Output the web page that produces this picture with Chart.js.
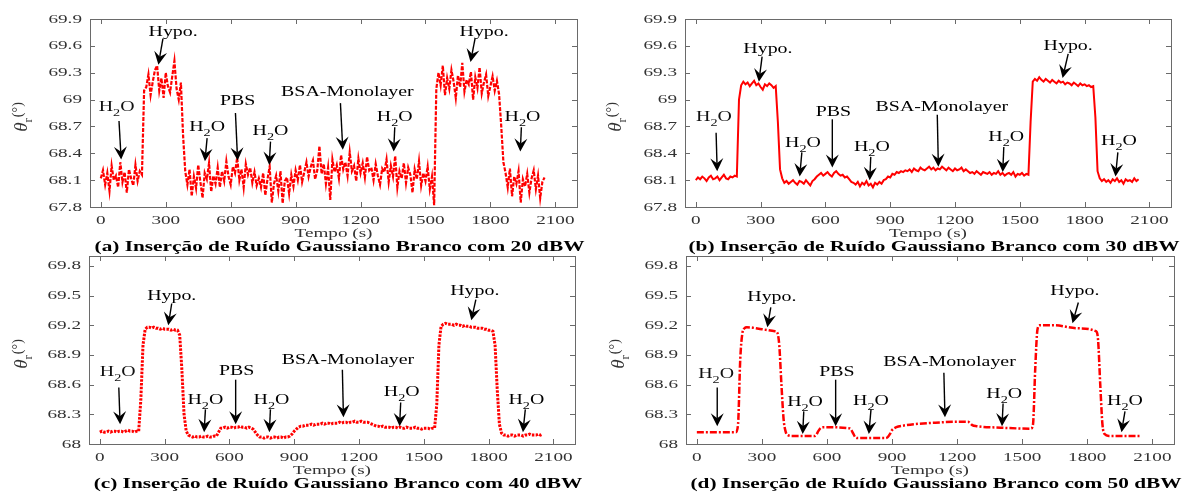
<!DOCTYPE html>
<html lang="pt">
<head>
<meta charset="UTF-8">
<title>Inserção de Ruído Gaussiano Branco</title>
<script src="https://cdn.jsdelivr.net/npm/chart.js"></script>
<style>
  body { margin: 0; background: #fff; }
  #wrap { position: relative; width: 1194px; height: 496px; overflow: hidden; }
  #wrap canvas { position: absolute; }
</style>
</head>
<body>
<div id="wrap">
  <canvas id="chartA" width="597" height="258" style="left:0;top:0"></canvas>
  <canvas id="chartB" width="600" height="258" style="left:594px;top:0"></canvas>
  <canvas id="chartC" width="597" height="246" style="left:0;top:250px"></canvas>
  <canvas id="chartD" width="597" height="246" style="left:597px;top:250px"></canvas>
</div>

<script>
const sampleStep = 10;

const ruido20 = [
  68.12, 68.21, 68.05, 68.18, 67.98, 68.26, 68.10, 68.15, 68.02, 68.30, 68.08, 68.19, 67.96, 68.22, 68.12, 68.04, 68.27, 68.09, 68.20,
  68.16, 69.10,
  69.14, 69.28, 69.05, 69.20, 69.33, 69.38, 69.10, 69.24, 69.02, 69.30, 69.15, 69.08, 69.26, 69.43, 69.12, 69.00, 69.19,
  68.60, 68.20,
  68.05, 68.22, 67.92, 68.14, 68.01, 68.27, 68.08, 67.90, 68.18, 68.11, 68.29, 67.97, 68.15, 68.06, 68.24, 68.02,
  68.20, 68.09, 68.31, 68.14, 68.05, 68.25, 68.18, 68.35, 68.10, 68.22, 68.02, 68.28, 68.16, 68.24, 68.07,
  68.19, 68.04, 68.12,
  68.02, 68.18, 67.93, 68.11, 68.25, 67.85, 68.06, 68.15, 67.98, 68.20, 67.84, 68.09, 68.13, 67.95,
  68.16, 68.03, 68.21, 68.10, 68.27, 68.08, 68.19, 68.30,
  68.14, 68.25, 68.32, 68.11, 68.21, 68.48, 68.17, 68.28, 68.06, 68.24, 67.88, 68.33, 68.19, 68.27, 68.12,
  68.38, 68.22, 68.30, 68.15, 68.41, 68.20, 68.26, 68.09, 68.34, 68.18, 68.29, 68.13, 68.36, 68.21, 68.24,
  68.10, 68.28, 68.15, 68.05, 68.23, 68.19, 68.33, 68.08, 68.26, 68.14, 68.37, 68.02, 68.20, 68.12, 68.29,
  68.07, 68.24, 68.16, 67.96, 68.22, 68.11, 68.31, 68.04, 68.18, 68.09, 68.25, 68.00, 68.14, 67.82,
  69.12,
  69.30, 69.16, 69.38, 69.05, 69.24, 69.12, 69.33, 69.20, 69.02, 69.27, 69.14, 69.41, 69.09, 69.22, 69.17,
  69.31, 69.00, 69.25, 69.13, 69.36, 69.07, 69.19, 69.28, 69.04, 69.15, 69.26, 69.10, 69.21, 69.06,
  68.70, 68.30,
  68.18, 68.02, 68.23, 67.92, 68.14, 68.06, 68.20, 67.85, 68.11, 68.03, 68.17, 67.96, 68.12, 68.21, 68.00, 68.15, 67.90, 68.08, 68.13
];

const ruido30 = [
  68.10, 68.13, 68.11, 68.14, 68.12, 68.09, 68.13, 68.15, 68.11, 68.12, 68.14, 68.10, 68.13, 68.16, 68.12, 68.11, 68.14, 68.13, 68.15,
  68.14, 69.00,
  69.16, 69.20, 69.17, 69.19, 69.15, 69.18, 69.21, 69.16, 69.18, 69.14, 69.11, 69.17, 69.15, 69.18, 69.16, 69.13, 69.15,
  68.75, 68.22,
  68.12, 68.07, 68.09, 68.06, 68.08, 68.10, 68.07, 68.05, 68.09, 68.08, 68.06, 68.10, 68.07, 68.04, 68.09, 68.11,
  68.14, 68.16, 68.18, 68.15, 68.17, 68.19, 68.16, 68.14, 68.18, 68.20, 68.17, 68.15, 68.16, 68.13, 68.14,
  68.11, 68.08, 68.07,
  68.05, 68.08, 68.03, 68.07, 68.05, 68.09, 68.04, 68.06, 68.02, 68.07, 68.05, 68.08, 68.06, 68.10,
  68.11, 68.14, 68.13, 68.17, 68.16, 68.19, 68.18, 68.20,
  68.19, 68.21, 68.20, 68.22, 68.19, 68.23, 68.21, 68.20, 68.24, 68.22, 68.21, 68.23, 68.25, 68.22, 68.24,
  68.21, 68.23, 68.22, 68.25, 68.23, 68.21, 68.24, 68.22, 68.20, 68.23, 68.21, 68.22, 68.24, 68.20, 68.22,
  68.20, 68.18, 68.19, 68.17, 68.20, 68.18, 68.16, 68.19, 68.18, 68.17, 68.19, 68.16, 68.18, 68.17, 68.20,
  68.16, 68.18, 68.15, 68.17, 68.18, 68.16, 68.19, 68.14, 68.17, 68.16, 68.18, 68.15, 68.17, 68.16,
  68.75,
  69.20, 69.23, 69.21, 69.25, 69.22, 69.20, 69.23, 69.21, 69.19, 69.22, 69.20, 69.18, 69.21, 69.19, 69.20,
  69.17, 69.19, 69.18, 69.16, 69.19, 69.17, 69.15, 69.18, 69.16, 69.17, 69.15, 69.16, 69.14, 69.15,
  68.80, 68.20,
  68.12, 68.09, 68.11, 68.08, 68.10, 68.07, 68.11, 68.09, 68.12, 68.08, 68.10, 68.06, 68.11, 68.09, 68.10, 68.08, 68.12, 68.09, 68.11
];

const ruido40 = [
  68.12, 68.13, 68.12, 68.12, 68.13, 68.12, 68.13, 68.13, 68.12, 68.13, 68.13, 68.12, 68.13, 68.14, 68.13, 68.13, 68.12, 68.13, 68.13,
  68.45, 69.00,
  69.16, 69.18, 69.18, 69.17, 69.18, 69.17, 69.17, 69.16, 69.17, 69.16, 69.16, 69.16, 69.15, 69.16, 69.15, 69.15,
  69.10, 68.75, 68.30, 68.13, 68.09,
  68.08, 68.07, 68.08, 68.07, 68.07, 68.08, 68.07, 68.07, 68.08, 68.07, 68.07, 68.08, 68.08,
  68.12, 68.16,
  68.16, 68.17, 68.16, 68.17, 68.17, 68.16, 68.17, 68.17, 68.18, 68.17, 68.17, 68.16, 68.17, 68.16, 68.15,
  68.12, 68.09, 68.07,
  68.07, 68.06, 68.07, 68.07, 68.06, 68.07, 68.07, 68.06, 68.07, 68.07, 68.06, 68.07, 68.07, 68.08,
  68.10, 68.13, 68.15, 68.17, 68.18, 68.18, 68.19,
  68.19, 68.19, 68.20, 68.19, 68.20, 68.20, 68.20, 68.21, 68.20, 68.21, 68.21, 68.20, 68.21, 68.21, 68.21,
  68.22, 68.21, 68.22, 68.22, 68.21, 68.22, 68.22, 68.23, 68.22, 68.22, 68.23, 68.22, 68.22, 68.22, 68.21,
  68.20, 68.19, 68.18,
  68.18, 68.17, 68.18, 68.17, 68.17, 68.17, 68.16, 68.17, 68.17, 68.16, 68.17, 68.16, 68.16, 68.17,
  68.16, 68.16, 68.16, 68.17, 68.16, 68.16, 68.15, 68.16, 68.16, 68.16, 68.15, 68.16, 68.16,
  68.40, 69.00, 69.19,
  69.21, 69.22, 69.21, 69.21, 69.21, 69.20, 69.21, 69.20, 69.20, 69.19, 69.20, 69.19,
  69.19, 69.18, 69.18, 69.18, 69.17, 69.17, 69.17, 69.16, 69.16, 69.15, 69.15, 69.14,
  69.00, 68.55, 68.20, 68.11,
  68.09, 68.09, 68.08, 68.09, 68.09, 68.08, 68.09, 68.09, 68.09, 68.08, 68.09, 68.09, 68.10, 68.09, 68.09, 68.09, 68.10, 68.09, 68.10
];

const tempo50 = [0, 180, 190, 200, 210, 220, 230, 300, 360, 370, 380, 390, 400, 410, 420, 440, 540, 550, 560, 570,
  580, 700, 710, 720, 730, 740, 870, 880, 890, 900, 920, 950, 1000, 1100, 1200, 1250, 1260, 1270, 1290, 1400,
  1540, 1550, 1560, 1570, 1580, 1600, 1650, 1750, 1840, 1850, 1860, 1870, 1880, 1900, 2050];
const ruido50 = [68.12, 68.12, 68.20, 68.85, 69.12, 69.17, 69.18, 69.16, 69.14, 69.13, 69.00, 68.60, 68.25, 68.12, 68.09, 68.08, 68.08, 68.09, 68.13, 68.16,
  68.17, 68.16, 68.15, 68.11, 68.07, 68.06, 68.06, 68.07, 68.10, 68.14, 68.17, 68.185, 68.20, 68.215, 68.225, 68.225, 68.21, 68.19, 68.18, 68.165,
  68.155, 68.20, 68.75, 69.15, 69.20, 69.20, 69.20, 69.17, 69.14, 69.05, 68.60, 68.20, 68.10, 68.08, 68.08];

const xTicks = [0, 300, 600, 900, 1200, 1500, 1800, 2100];
const yTicksAB = [67.8, 68.1, 68.4, 68.7, 69, 69.3, 69.6, 69.9];
const yTicksCD = [68, 68.3, 68.6, 68.9, 69.2, 69.5, 69.8];

const captions = [
  '(a) Inserção de Ruído Gaussiano Branco com 20 dBW',
  '(b) Inserção de Ruído Gaussiano Branco com 30 dBW',
  '(c) Inserção de Ruído Gaussiano Branco com 40 dBW',
  '(d) Inserção de Ruído Gaussiano Branco com 50 dBW'
];

// setas: rotulo (lx,ly), inicio da haste (sx,sy), ponta (ex,ey) em coordenadas de dados
const notesA = [
  {text: 'H2O', lx: 73, ly: 68.91, sx: 84, sy: 68.76, ex: 94, ey: 68.33},
  {text: 'Hypo.', lx: 334, ly: 69.75, sx: 287, sy: 69.68, ex: 266, ey: 69.39},
  {text: 'H2O', lx: 491, ly: 68.69, sx: 491, sy: 68.57, ex: 481, ey: 68.31},
  {text: 'PBS', lx: 632, ly: 68.98, sx: 622, sy: 68.85, ex: 632, ey: 68.32},
  {text: 'H2O', lx: 784, ly: 68.64, sx: 784, sy: 68.53, ex: 778, ey: 68.27},
  {text: 'BSA-Monolayer', lx: 1139, ly: 69.08, sx: 1107, sy: 68.96, ex: 1118, ey: 68.44},
  {text: 'H2O', lx: 1358, ly: 68.80, sx: 1358, sy: 68.69, ex: 1353, ey: 68.42},
  {text: 'Hypo.', lx: 1771, ly: 69.75, sx: 1729, sy: 69.68, ex: 1708, ey: 69.42},
  {text: 'H2O', lx: 1948, ly: 68.80, sx: 1943, sy: 68.69, ex: 1938, ey: 68.42}
];
const notesB = [
  {text: 'H2O', lx: 84, ly: 68.80, sx: 94, sy: 68.63, ex: 99, ey: 68.20},
  {text: 'Hypo.', lx: 334, ly: 69.56, sx: 307, sy: 69.48, ex: 292, ey: 69.20},
  {text: 'H2O', lx: 496, ly: 68.51, sx: 491, sy: 68.41, ex: 481, ey: 68.14},
  {text: 'PBS', lx: 637, ly: 68.86, sx: 632, sy: 68.78, ex: 632, ey: 68.24},
  {text: 'H2O', lx: 815, ly: 68.47, sx: 810, sy: 68.36, ex: 805, ey: 68.10},
  {text: 'BSA-Monolayer', lx: 1139, ly: 68.91, sx: 1118, sy: 68.83, ex: 1123, ey: 68.25},
  {text: 'H2O', lx: 1437, ly: 68.58, sx: 1426, sy: 68.47, ex: 1421, ey: 68.19},
  {text: 'Hypo.', lx: 1724, ly: 69.59, sx: 1724, sy: 69.51, ex: 1698, ey: 69.24},
  {text: 'H2O', lx: 1959, ly: 68.53, sx: 1954, sy: 68.41, ex: 1943, ey: 68.14}
];
const notesC = [
  {text: 'H2O', lx: 83, ly: 68.72, sx: 88, sy: 68.57, ex: 94, ey: 68.20},
  {text: 'Hypo.', lx: 333, ly: 69.49, sx: 333, sy: 69.42, ex: 317, ey: 69.20},
  {text: 'H2O', lx: 489, ly: 68.44, sx: 489, sy: 68.35, ex: 483, ey: 68.12},
  {text: 'PBS', lx: 634, ly: 68.73, sx: 629, sy: 68.65, ex: 629, ey: 68.20},
  {text: 'H2O', lx: 795, ly: 68.44, sx: 790, sy: 68.35, ex: 785, ey: 68.12},
  {text: 'BSA-Monolayer', lx: 1149, ly: 68.85, sx: 1123, sy: 68.75, ex: 1128, ey: 68.27},
  {text: 'H2O', lx: 1398, ly: 68.52, sx: 1393, sy: 68.42, ex: 1388, ey: 68.18},
  {text: 'Hypo.', lx: 1736, ly: 69.54, sx: 1741, sy: 69.46, ex: 1720, ey: 69.25},
  {text: 'H2O', lx: 1975, ly: 68.44, sx: 1970, sy: 68.35, ex: 1959, ey: 68.12}
];
const notesD = [
  {text: 'H2O', lx: 89, ly: 68.70, sx: 94, sy: 68.57, ex: 94, ey: 68.18},
  {text: 'Hypo.', lx: 346, ly: 69.48, sx: 341, sy: 69.38, ex: 325, ey: 69.18},
  {text: 'H2O', lx: 499, ly: 68.42, sx: 493, sy: 68.33, ex: 488, ey: 68.10},
  {text: 'PBS', lx: 646, ly: 68.72, sx: 640, sy: 68.65, ex: 640, ey: 68.18},
  {text: 'H2O', lx: 803, ly: 68.43, sx: 803, sy: 68.35, ex: 793, ey: 68.10},
  {text: 'BSA-Monolayer', lx: 1165, ly: 68.83, sx: 1139, sy: 68.72, ex: 1144, ey: 68.27},
  {text: 'H2O', lx: 1417, ly: 68.50, sx: 1412, sy: 68.41, ex: 1407, ey: 68.18},
  {text: 'Hypo.', lx: 1743, ly: 69.54, sx: 1759, sy: 69.43, ex: 1732, ey: 69.22},
  {text: 'H2O', lx: 1974, ly: 68.43, sx: 1974, sy: 68.33, ex: 1958, ey: 68.12}
];

// the source figure is stretched sideways, so text is drawn wider than tall
const STRETCH = 1.42;
const SERIF = "'Liberation Serif', 'Times New Roman', serif";
const tickFont = '13.5px ' + SERIF;
const noteFont = '14px ' + SERIF;
const subFont = '10px ' + SERIF;
const capFont = 'bold 15px ' + SERIF;

function stretchText(ctx, str, px, py, font, align) {
  ctx.save();
  ctx.translate(px, py);
  ctx.scale(STRETCH, 1);
  ctx.font = font;
  ctx.textAlign = align;
  ctx.textBaseline = 'middle';
  ctx.fillText(str, 0, 0);
  ctx.restore();
}

function drawH2O(ctx, cx, cy) {
  ctx.save();
  ctx.translate(cx, cy);
  ctx.scale(STRETCH, 1);
  ctx.textAlign = 'left';
  ctx.textBaseline = 'middle';
  ctx.font = noteFont;
  const wH = ctx.measureText('H').width, wO = ctx.measureText('O').width;
  ctx.font = subFont;
  const w2 = ctx.measureText('2').width;
  const x0 = -(wH + w2 + wO) / 2;
  ctx.font = noteFont;
  ctx.fillText('H', x0, 0);
  ctx.fillText('O', x0 + wH + w2, 0);
  ctx.font = subFont;
  ctx.fillText('2', x0 + wH, 6);
  ctx.restore();
}

function drawArrow(ctx, sx, sy, ex, ey) {
  const dx = ex - sx, dy = ey - sy;
  const len = Math.hypot(dx, dy);
  const ux = dx / len, uy = dy / len;
  const L = 13, W = 6.5;
  const bx = ex - ux * L, by = ey - uy * L;
  ctx.beginPath();
  ctx.moveTo(sx, sy);
  ctx.lineTo(ex - ux * L * 0.6, ey - uy * L * 0.6);
  ctx.lineWidth = 1.4;
  ctx.strokeStyle = '#000';
  ctx.stroke();
  ctx.beginPath();
  ctx.moveTo(ex, ey);
  ctx.lineTo(bx - uy * W, by + ux * W);
  ctx.lineTo(ex - ux * L * 0.62, ey - uy * L * 0.62);
  ctx.lineTo(bx + uy * W, by - ux * W);
  ctx.closePath();
  ctx.fillStyle = '#000';
  ctx.fill();
}

const figurePlugin = {
  id: 'figure',
  afterDraw(chart, args, opts) {
    const {ctx, chartArea: a, scales: {x, y}} = chart;
    ctx.save();

    // box with inward ticks on all sides
    ctx.strokeStyle = '#6a6a6a';
    ctx.lineWidth = 1;
    ctx.strokeRect(Math.round(a.left) + 0.5, Math.round(a.top) + 0.5,
      Math.round(a.right - a.left), Math.round(a.bottom - a.top));
    ctx.beginPath();
    xTicks.forEach(v => {
      const px = Math.round(x.getPixelForValue(v)) + 0.5;
      ctx.moveTo(px, a.bottom); ctx.lineTo(px, a.bottom - 5);
      ctx.moveTo(px, a.top); ctx.lineTo(px, a.top + 5);
    });
    opts.yTicks.forEach(v => {
      const py = Math.round(y.getPixelForValue(v)) + 0.5;
      ctx.moveTo(a.left, py); ctx.lineTo(a.left + 5, py);
      ctx.moveTo(a.right, py); ctx.lineTo(a.right - 5, py);
    });
    ctx.stroke();

    // tick labels
    ctx.fillStyle = '#333';
    xTicks.forEach(v => stretchText(ctx, String(v), x.getPixelForValue(v), a.bottom + 13, tickFont, 'center'));
    opts.yTicks.forEach(v => stretchText(ctx, String(Math.round(v * 10) / 10), a.left - 8, y.getPixelForValue(v), tickFont, 'right'));

    const mid = (a.left + a.right) / 2;
    stretchText(ctx, 'Tempo (s)', mid, a.bottom + 26, tickFont, 'center');

    // y label: theta_r (°)
    ctx.save();
    ctx.translate(22, (a.top + a.bottom) / 2 + 4);
    ctx.rotate(-Math.PI / 2);
    ctx.textBaseline = 'middle';
    ctx.textAlign = 'left';
    ctx.font = 'italic 19px ' + SERIF;
    const wT = ctx.measureText('θ').width;
    ctx.font = '13px ' + SERIF;
    const wr = ctx.measureText('r').width;
    ctx.font = '14px ' + SERIF;
    const wd = ctx.measureText('(°)').width;
    const x0 = -(wT + wr + wd + 1) / 2;
    ctx.font = 'italic 19px ' + SERIF;
    ctx.fillText('θ', x0, 0);
    ctx.font = '13px ' + SERIF;
    ctx.fillText('r', x0 + wT, 7);
    ctx.font = '14px ' + SERIF;
    ctx.fillText('(°)', x0 + wT + wr + 1, -4);
    ctx.restore();

    // caption
    ctx.fillStyle = '#000';
    stretchText(ctx, opts.caption, mid + 6, a.bottom + 40, capFont, 'center');

    // arrows and labels
    ctx.fillStyle = '#111';
    opts.notes.forEach(n => {
      const lx = x.getPixelForValue(n.lx), ly = y.getPixelForValue(n.ly);
      if (n.text === 'H2O') drawH2O(ctx, lx, ly);
      else stretchText(ctx, n.text, lx, ly, noteFont, 'center');
      drawArrow(ctx, x.getPixelForValue(n.sx), y.getPixelForValue(n.sy),
        x.getPixelForValue(n.ex), y.getPixelForValue(n.ey));
    });

    ctx.restore();
  }
};

function sampled(values) {
  return values.map((v, i) => ({x: i * sampleStep, y: v}));
}

function makePanel(id, points, style, yMin, yMax, yTicks, caption, notes, pad) {
  new Chart(document.getElementById(id), {
    type: 'line',
    data: {
      datasets: [Object.assign({
        data: points,
        borderColor: '#ff0000',
        pointRadius: 0,
        fill: false
      }, style)]
    },
    options: {
      responsive: false,
      animation: false,
      devicePixelRatio: 1,
      layout: {padding: pad},
      scales: {
        x: {type: 'linear', min: -50, max: 2200, display: false},
        y: {min: yMin, max: yMax, display: false}
      },
      plugins: {
        legend: {display: false},
        tooltip: {enabled: false},
        figure: {yTicks: yTicks, caption: caption, notes: notes}
      }
    },
    plugins: [figurePlugin]
  });
}

makePanel('chartA', sampled(ruido20), {borderWidth: 2.2, borderDash: [4, 1.5]},
  67.8, 69.9, yTicksAB, captions[0], notesA, {left: 90, right: 20, top: 19, bottom: 51});
makePanel('chartB', sampled(ruido30), {borderWidth: 2},
  67.8, 69.9, yTicksAB, captions[1], notesB, {left: 91, right: 23, top: 19, bottom: 51});
makePanel('chartC', sampled(ruido40), {borderWidth: 3, borderDash: [2.5, 1.3]},
  68, 69.9, yTicksCD, captions[2], notesC, {left: 89, right: 22, top: 6, bottom: 52});
makePanel('chartD', tempo50.map((t, i) => ({x: t, y: ruido50[i]})),
  {borderWidth: 2.5, borderDash: [7, 2, 2, 2], cubicInterpolationMode: 'monotone'},
  68, 69.9, yTicksCD, captions[3], notesD, {left: 89, right: 20, top: 6, bottom: 52});
</script>
</body>
</html>
